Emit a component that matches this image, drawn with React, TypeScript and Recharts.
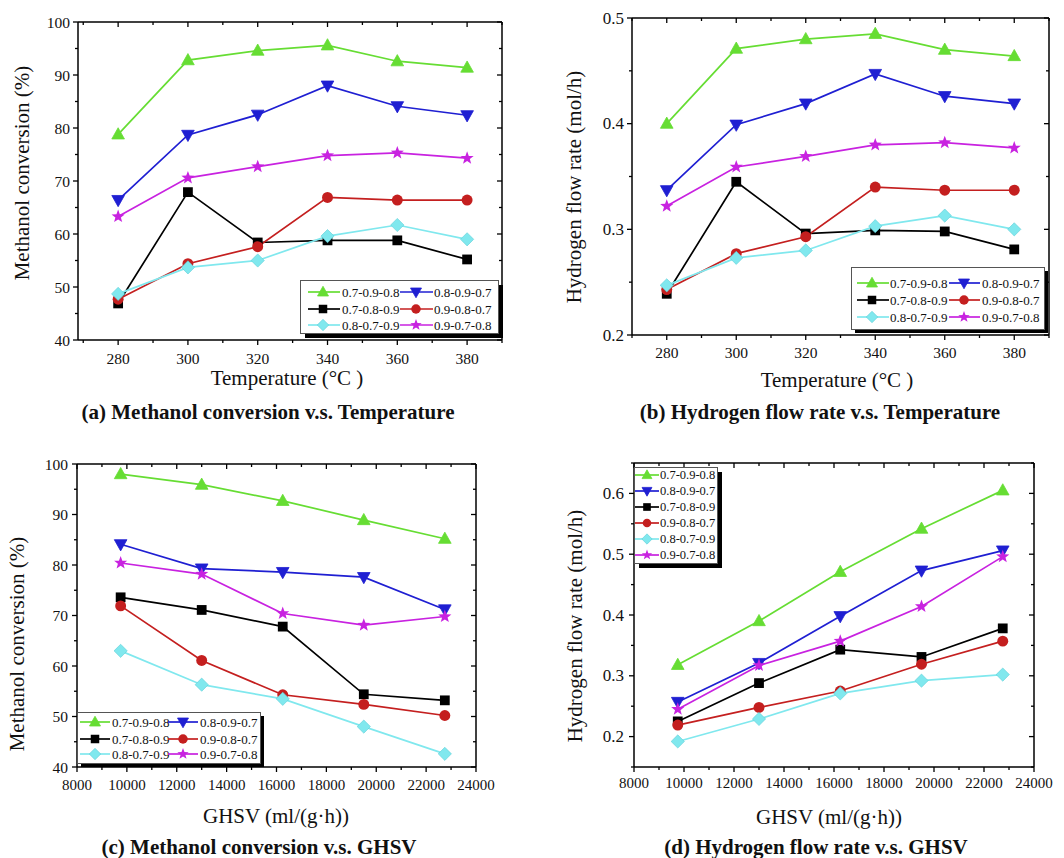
import React from 'react';
import { LineChart, Line, XAxis, YAxis, Legend } from 'recharts';

const FONT = "'Liberation Serif', 'Times New Roman', Times, serif";

// ---------- shared series meta ----------
const seriesNames = ['0.7-0.9-0.8', '0.8-0.9-0.7', '0.7-0.8-0.9', '0.9-0.8-0.7', '0.8-0.7-0.9', '0.9-0.7-0.8'];
const seriesColors = ['#66dd33', '#1f1fd2', '#000000', '#c41f1f', '#80e8ee', '#c822e0'];
const seriesShapes = ['triangleUp', 'triangleDown', 'square', 'circle', 'diamond', 'star'];

// ---------- x categories ----------
const temperatures = [280, 300, 320, 340, 360, 380];
const ghsvValues = [9750, 13000, 16250, 19500, 22750];

// ---------- (a) Methanol conversion vs Temperature ----------
const convTemp_0708 = [78.8, 92.8, 94.6, 95.6, 92.6, 91.4];
const convTemp_0807 = [66.4, 78.7, 82.5, 88.0, 84.1, 82.4];
const convTemp_0709 = [46.9, 67.9, 58.4, 58.8, 58.8, 55.2];
const convTemp_0907 = [47.7, 54.4, 57.6, 66.9, 66.4, 66.4];
const convTemp_0809 = [48.7, 53.7, 55.0, 59.6, 61.7, 59.0];
const convTemp_0908 = [63.3, 70.6, 72.7, 74.8, 75.3, 74.3];

// ---------- (b) Hydrogen flow rate vs Temperature ----------
const h2Temp_0708 = [0.400, 0.471, 0.480, 0.485, 0.470, 0.464];
const h2Temp_0807 = [0.337, 0.399, 0.419, 0.447, 0.426, 0.419];
const h2Temp_0709 = [0.239, 0.345, 0.296, 0.299, 0.298, 0.281];
const h2Temp_0907 = [0.243, 0.277, 0.293, 0.340, 0.337, 0.337];
const h2Temp_0809 = [0.247, 0.273, 0.280, 0.303, 0.313, 0.300];
const h2Temp_0908 = [0.322, 0.359, 0.369, 0.380, 0.382, 0.377];

// ---------- (c) Methanol conversion vs GHSV ----------
const convGhsv_0708 = [98.0, 95.9, 92.7, 88.9, 85.2];
const convGhsv_0807 = [84.1, 79.3, 78.6, 77.6, 71.2];
const convGhsv_0709 = [73.6, 71.1, 67.8, 54.4, 53.2];
const convGhsv_0907 = [71.9, 61.1, 54.3, 52.4, 50.2];
const convGhsv_0809 = [63.0, 56.3, 53.5, 48.0, 42.6];
const convGhsv_0908 = [80.4, 78.2, 70.4, 68.1, 69.8];

// ---------- (d) Hydrogen flow rate vs GHSV ----------
const h2Ghsv_0708 = [0.318, 0.390, 0.471, 0.542, 0.605];
const h2Ghsv_0807 = [0.257, 0.321, 0.398, 0.473, 0.506];
const h2Ghsv_0709 = [0.225, 0.288, 0.343, 0.331, 0.378];
const h2Ghsv_0907 = [0.219, 0.248, 0.275, 0.319, 0.357];
const h2Ghsv_0809 = [0.192, 0.229, 0.271, 0.292, 0.302];
const h2Ghsv_0908 = [0.245, 0.317, 0.357, 0.414, 0.496];

// ---------- tick labels ----------
const tempMajorTicks = [280, 300, 320, 340, 360, 380];
const tempAllTicks = [270, 280, 290, 300, 310, 320, 330, 340, 350, 360, 370, 380, 390];
const ghsvMajorTicks = [8000, 10000, 12000, 14000, 16000, 18000, 20000, 22000, 24000];
const ghsvAllTicks = [8000, 9000, 10000, 11000, 12000, 13000, 14000, 15000, 16000, 17000, 18000, 19000, 20000, 21000, 22000, 23000, 24000];
const convMajorTicks = [40, 50, 60, 70, 80, 90, 100];
const convAllTicks = [40, 45, 50, 55, 60, 65, 70, 75, 80, 85, 90, 95, 100];
const h2TempMajorTicks = [0.2, 0.3, 0.4, 0.5];
const h2TempAllTicks = [0.2, 0.25, 0.3, 0.35, 0.4, 0.45, 0.5];
const h2GhsvMajorTicks = [0.2, 0.3, 0.4, 0.5, 0.6];
const h2GhsvAllTicks = [0.15, 0.2, 0.25, 0.3, 0.35, 0.4, 0.45, 0.5, 0.55, 0.6, 0.65];

function buildRows(xs: number[], series: number[][]) {
  return xs.map((x, i) => {
    const row: any = { x };
    series.forEach((s, k) => {
      row['s' + k] = s[i];
    });
    return row;
  });
}

const dataA = buildRows(temperatures, [convTemp_0708, convTemp_0807, convTemp_0709, convTemp_0907, convTemp_0809, convTemp_0908]);
const dataB = buildRows(temperatures, [h2Temp_0708, h2Temp_0807, h2Temp_0709, h2Temp_0907, h2Temp_0809, h2Temp_0908]);
const dataC = buildRows(ghsvValues, [convGhsv_0708, convGhsv_0807, convGhsv_0709, convGhsv_0907, convGhsv_0809, convGhsv_0908]);
const dataD = buildRows(ghsvValues, [h2Ghsv_0708, h2Ghsv_0807, h2Ghsv_0709, h2Ghsv_0907, h2Ghsv_0809, h2Ghsv_0908]);

// ---------- markers ----------
function Marker({ shape, cx, cy, color, size }: any) {
  if (cx == null || cy == null) return null;
  const s = size / 2;
  const stroke = color === '#80e8ee' ? '#5ccfd6' : color;
  switch (shape) {
    case 'triangleUp':
      return <polygon points={`${cx},${cy - s * 1.15} ${cx + s * 1.1},${cy + s * 0.8} ${cx - s * 1.1},${cy + s * 0.8}`} fill={color} stroke={stroke} strokeWidth={0.8} />;
    case 'triangleDown':
      return <polygon points={`${cx},${cy + s * 1.15} ${cx + s * 1.1},${cy - s * 0.8} ${cx - s * 1.1},${cy - s * 0.8}`} fill={color} stroke={stroke} strokeWidth={0.8} />;
    case 'square':
      return <rect x={cx - s * 0.85} y={cy - s * 0.85} width={s * 1.7} height={s * 1.7} fill={color} />;
    case 'circle':
      return <circle cx={cx} cy={cy} r={s * 0.95} fill={color} />;
    case 'diamond':
      return <polygon points={`${cx},${cy - s * 1.15} ${cx + s * 1.15},${cy} ${cx},${cy + s * 1.15} ${cx - s * 1.15},${cy}`} fill={color} stroke={stroke} strokeWidth={0.6} />;
    case 'star': {
      const pts: string[] = [];
      for (let i = 0; i < 10; i++) {
        const r = i % 2 === 0 ? s * 1.2 : s * 0.5;
        const a = -Math.PI / 2 + (i * Math.PI) / 5;
        pts.push(`${cx + r * Math.cos(a)},${cy + r * Math.sin(a)}`);
      }
      return <polygon points={pts.join(' ')} fill={color} />;
    }
    default:
      return null;
  }
}

// ---------- ticks ----------
function isIn(list: number[], v: number) {
  return list.some((m) => Math.abs(m - v) < 1e-9);
}

// tickSize=0 & tickMargin=0, so (x, y) handed to the tick is the point on the axis line
function makeTick(side: string, majors: number[], fmt: (v: number) => string, fontSize: number, labelGap: number) {
  return (props: any) => {
    const { x, y, payload, index } = props;
    const v = payload.value;
    const major = isIn(majors, v);
    const len = major ? 5 : 3;
    const txt = { fontFamily: FONT, fontSize, fill: '#111' } as any;
    if (side === 'bottom') {
      return (
        <g key={'b' + index}>
          <line x1={x} y1={y} x2={x} y2={y + len} stroke="#000" strokeWidth={1.3} />
          {major && (
            <text x={x} y={y + labelGap} textAnchor="middle" dominantBaseline="central" style={txt}>
              {fmt(v)}
            </text>
          )}
        </g>
      );
    }
    if (side === 'left') {
      return (
        <g key={'l' + index}>
          <line x1={x - len} y1={y} x2={x} y2={y} stroke="#000" strokeWidth={1.3} />
          {major && (
            <text x={x - labelGap} y={y} textAnchor="end" dominantBaseline="central" style={txt}>
              {fmt(v)}
            </text>
          )}
        </g>
      );
    }
    if (side === 'top') {
      return <line key={'t' + index} x1={x} y1={y} x2={x} y2={y + len} stroke="#000" strokeWidth={1.3} />;
    }
    return <line key={'r' + index} x1={x - len} y1={y} x2={x} y2={y} stroke="#000" strokeWidth={1.3} />;
  };
}

// ---------- legend ----------
function LegendBox({ cfg }: any) {
  const { w, h, off, rows, cols, perRow, fontSize, markerSize } = cfg;
  return (
    <svg width={w + off + 2} height={h + off + 2} style={{ display: 'block', overflow: 'visible' }}>
      <rect x={off} y={off} width={w} height={h} fill="#000" />
      <rect x={0.5} y={0.5} width={w} height={h} fill="#fff" stroke="#555" strokeWidth={1} />
      {seriesNames.map((name, i) => {
        const r = Math.floor(i / perRow);
        const c = i % perRow;
        const col = cols[c];
        const y = rows[r];
        return (
          <g key={name}>
            <line x1={col.x1} y1={y} x2={col.x2} y2={y} stroke={seriesColors[i]} strokeWidth={1.7} />
            <Marker shape={seriesShapes[i]} cx={col.m} cy={y} color={seriesColors[i]} size={markerSize} />
            <text x={col.t} y={y} dominantBaseline="central" style={{ fontFamily: FONT, fontSize, fill: '#111' }}>
              {name}
            </text>
          </g>
        );
      })}
    </svg>
  );
}

// ---------- panels ----------
const fmtInt = (v: number) => String(v);
const fmtDec = (v: number) => v.toFixed(1);

// plot boxes: a (78,22)-(502,340); b (632,18)-(1049,335); c (77,464)-(476,767); d (634,463)-(1034,767)
const panels = [
  {
    key: 'a', left: 0, top: 0, width: 532, height: 430,
    margin: { top: 21, right: 29, bottom: 89, left: 0 }, yWidth: 78,
    data: dataA, xDomain: [268.5, 390], xAll: tempAllTicks, xMajor: tempMajorTicks, xFmt: fmtInt,
    yDomain: [40, 100], yAll: convAllTicks, yMajor: convMajorTicks, yFmt: fmtInt,
    xFont: 15.5, yFont: 15.5, xGap: 18, yGap: 8, markerSize: 11.5,
    legend: { left: 300, top: 280, w: 198, h: 53, off: 5, perRow: 2, rows: [12, 29, 45], cols: [{ x1: 8, x2: 40, m: 23, t: 42 }, { x1: 100, x2: 133, m: 116, t: 134 }], fontSize: 13, markerSize: 10 },
  },
  {
    key: 'b', left: 532, top: 0, width: 532, height: 430,
    margin: { top: 17, right: 14, bottom: 94, left: 0 }, yWidth: 100,
    data: dataB, xDomain: [270, 390], xAll: tempAllTicks, xMajor: tempMajorTicks, xFmt: fmtInt,
    yDomain: [0.2, 0.5], yAll: h2TempAllTicks, yMajor: h2TempMajorTicks, yFmt: fmtDec,
    xFont: 15.5, yFont: 17, xGap: 17, yGap: 8, markerSize: 11.5,
    legend: { left: 319, top: 267, w: 193, h: 62, off: 4, perRow: 2, rows: [16, 33, 50], cols: [{ x1: 6, x2: 38, m: 21, t: 39 }, { x1: 98, x2: 129, m: 113, t: 131 }], fontSize: 13, markerSize: 10 },
  },
  {
    key: 'c', left: 0, top: 430, width: 532, height: 428,
    margin: { top: 33, right: 55, bottom: 90, left: 0 }, yWidth: 77,
    data: dataC, xDomain: [8000, 24000], xAll: ghsvAllTicks, xMajor: ghsvMajorTicks, xFmt: fmtInt,
    yDomain: [40, 100], yAll: convAllTicks, yMajor: convMajorTicks, yFmt: fmtInt,
    xFont: 15, yFont: 15.5, xGap: 18, yGap: 9, markerSize: 11.5,
    legend: { left: 77, top: 282, w: 183, h: 51, off: 4, perRow: 2, rows: [10, 27, 42], cols: [{ x1: 3, x2: 33, m: 18, t: 35 }, { x1: 91, x2: 121, m: 106, t: 123 }], fontSize: 13, markerSize: 10 },
  },
  {
    key: 'd', left: 532, top: 430, width: 532, height: 428,
    margin: { top: 32, right: 29, bottom: 90, left: 0 }, yWidth: 102,
    data: dataD, xDomain: [8000, 24000], xAll: ghsvAllTicks, xMajor: ghsvMajorTicks, xFmt: fmtInt,
    yDomain: [0.15, 0.65], yAll: h2GhsvAllTicks, yMajor: h2GhsvMajorTicks, yFmt: fmtDec,
    xFont: 15, yFont: 17, xGap: 16, yGap: 10, markerSize: 11.5,
    legend: { left: 102, top: 37, w: 83, h: 96, off: 5, perRow: 1, rows: [8, 24, 40, 56, 72, 88], cols: [{ x1: 1, x2: 25, m: 13, t: 26 }], fontSize: 12.5, markerSize: 9 },
  },
];

const texts = [
  { t: 'Methanol conversion (%)', x: 22, y: 173, rot: true, size: 21, bold: false },
  { t: 'Temperature (°C )', x: 287, y: 378, rot: false, size: 21, bold: false },
  { t: '(a) Methanol conversion v.s. Temperature', x: 268, y: 412, rot: false, size: 21, bold: true },
  { t: 'Hydrogen flow rate (mol/h)', x: 574, y: 187, rot: true, size: 21, bold: false },
  { t: 'Temperature (°C )', x: 837, y: 380, rot: false, size: 21, bold: false },
  { t: '(b) Hydrogen flow rate v.s. Temperature', x: 820, y: 412, rot: false, size: 21, bold: true },
  { t: 'Methanol conversion (%)', x: 17, y: 644, rot: true, size: 21, bold: false },
  { t: 'GHSV (ml/(g·h))', x: 276, y: 816, rot: false, size: 21, bold: false },
  { t: '(c) Methanol conversion v.s. GHSV', x: 259, y: 847, rot: false, size: 21, bold: true },
  { t: 'Hydrogen flow rate (mol/h)', x: 575, y: 626, rot: true, size: 21, bold: false },
  { t: 'GHSV (ml/(g·h))', x: 829, y: 817, rot: false, size: 21, bold: false },
  { t: '(d) Hydrogen flow rate v.s. GHSV', x: 816, y: 847, rot: false, size: 21, bold: true },
];

function Panel({ p }: any) {
  const axisLine = { stroke: '#000', strokeWidth: 1.5 };
  return (
    <div style={{ position: 'absolute', left: p.left, top: p.top }}>
      <LineChart width={p.width} height={p.height} data={p.data} margin={p.margin}>
        <XAxis
          xAxisId="b" dataKey="x" type="number" domain={p.xDomain} allowDataOverflow ticks={p.xAll} interval={0}
          height={1} tickSize={0} tickMargin={0} tickLine={false} axisLine={axisLine}
          tick={makeTick('bottom', p.xMajor, p.xFmt, p.xFont, p.xGap)}
        />
        <XAxis
          xAxisId="t" orientation="top" dataKey="x" type="number" domain={p.xDomain} allowDataOverflow ticks={p.xAll} interval={0}
          height={1} tickSize={0} tickMargin={0} tickLine={false} axisLine={axisLine}
          tick={makeTick('top', p.xMajor, p.xFmt, p.xFont, p.xGap)}
        />
        <YAxis
          yAxisId="l" type="number" domain={p.yDomain} allowDataOverflow ticks={p.yAll} interval={0}
          width={p.yWidth} tickSize={0} tickMargin={0} tickLine={false} axisLine={axisLine}
          tick={makeTick('left', p.yMajor, p.yFmt, p.yFont, p.yGap)}
        />
        <YAxis
          yAxisId="r" orientation="right" type="number" domain={p.yDomain} allowDataOverflow ticks={p.yAll} interval={0}
          width={1} tickSize={0} tickMargin={0} tickLine={false} axisLine={axisLine}
          tick={makeTick('right', p.yMajor, p.yFmt, p.yFont, p.yGap)}
        />
        {seriesNames.map((name, i) => (
          <Line
            key={name}
            xAxisId="b"
            yAxisId="l"
            type="linear"
            dataKey={'s' + i}
            name={name}
            stroke={seriesColors[i]}
            strokeWidth={1.7}
            isAnimationActive={false}
            activeDot={false}
            dot={(dp: any) => (
              <Marker key={name + dp.index} shape={seriesShapes[i]} cx={dp.cx} cy={dp.cy} color={seriesColors[i]} size={p.markerSize} />
            )}
          />
        ))}
        <Legend
          layout="horizontal"
          verticalAlign="middle"
          align="center"
          wrapperStyle={{ left: p.legend.left, top: p.legend.top, width: p.legend.w + p.legend.off + 2, height: p.legend.h + p.legend.off + 2 }}
          content={() => <LegendBox cfg={p.legend} />}
        />
      </LineChart>
    </div>
  );
}

export default function App() {
  return (
    <div style={{ position: 'absolute', left: 0, top: 0, width: 1064, height: 858, background: '#fff', overflow: 'hidden' }}>
      {panels.map((p) => (
        <Panel key={p.key} p={p} />
      ))}
      {texts.map((t, i) => (
        <div
          key={i}
          style={{
            position: 'absolute',
            left: t.x,
            top: t.y,
            transform: `translate(-50%, -50%)${t.rot ? ' rotate(-90deg)' : ''}`,
            fontFamily: FONT,
            fontSize: t.size,
            fontWeight: t.bold ? 'bold' : 'normal',
            whiteSpace: 'nowrap',
            lineHeight: 1,
            color: '#111',
          }}
        >
          {t.t}
        </div>
      ))}
    </div>
  );
}
